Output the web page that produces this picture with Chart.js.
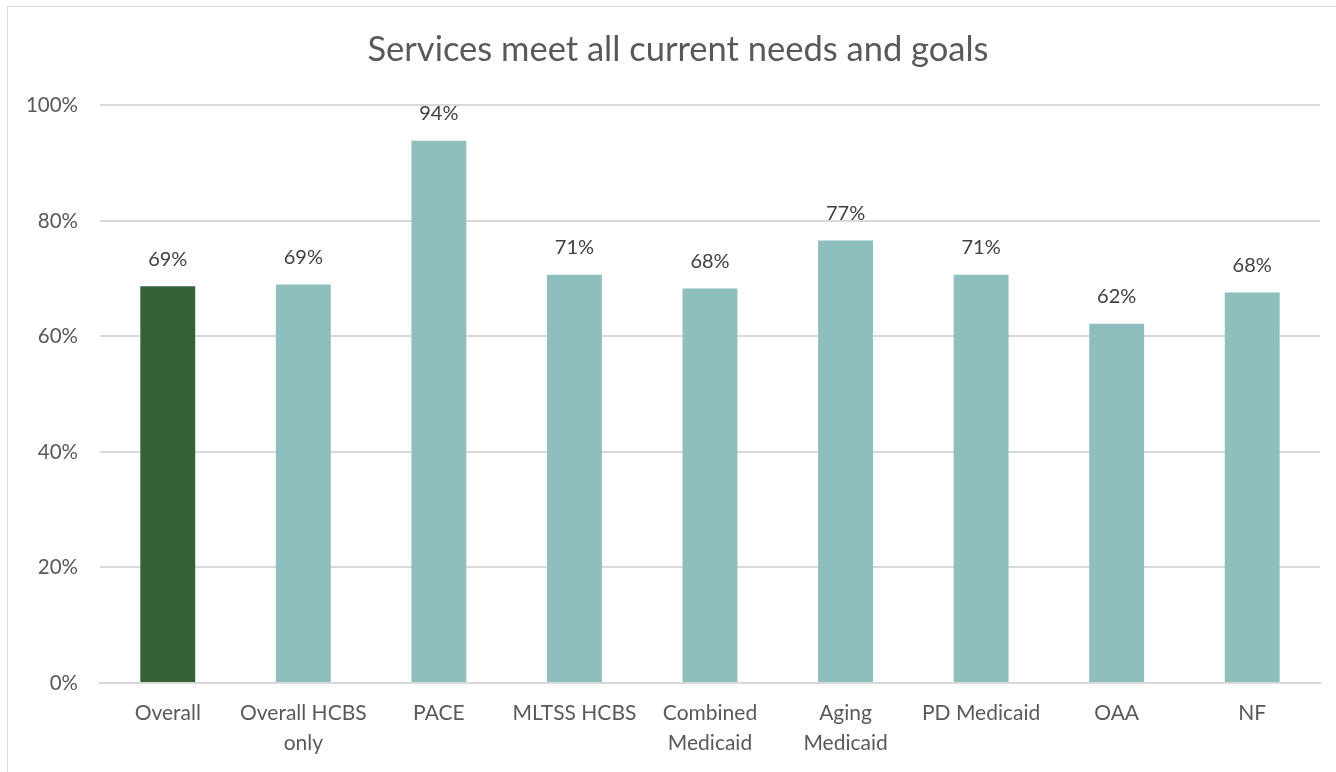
<!DOCTYPE html>
<html>
<head>
<meta charset="utf-8">
<script src="https://cdn.jsdelivr.net/npm/chart.js@4/dist/chart.umd.min.js"></script>
<style>
  html, body { margin: 0; padding: 0; background: #ffffff; overflow: hidden; }
  #frame { position: absolute; left: 7px; top: 6px; width: 1400px; height: 900px; border: 1px solid #d9d9d9; }
  #wrap { position: absolute; left: 0; top: 0; width: 1336px; height: 772px; }
</style>
</head>
<body>
<div id="frame"></div>
<div id="wrap"><canvas id="c" width="1336" height="772"></canvas></div>
<script>
const categories = ['Overall', ['Overall HCBS', 'only'], 'PACE', 'MLTSS HCBS', ['Combined', 'Medicaid'], ['Aging', 'Medicaid'], 'PD Medicaid', 'OAA', 'NF'];
const values = [68.7, 69.0, 93.9, 70.7, 68.3, 76.6, 70.7, 62.2, 67.6];
const barColors = ['#336235', '#8FBEBE', '#8FBEBE', '#8FBEBE', '#8FBEBE', '#8FBEBE', '#8FBEBE', '#8FBEBE', '#8FBEBE'];
const yTicks = [0, 20, 40, 60, 80, 100];
const titleText = 'Services meet all current needs and goals';

const FONT = 'Lato, "Open Sans", sans-serif';

const labelPlugin = {
  id: 'valueLabels',
  afterLayout(chart) {
    if (chart.titleBlock) { chart.titleBlock.left = 36; }
  },
  afterDatasetsDraw(chart) {
    const ctx = chart.ctx;
    const meta = chart.getDatasetMeta(0);
    ctx.save();
    ctx.font = '20px ' + FONT;
    ctx.fillStyle = '#404040';
    ctx.textAlign = 'center';
    ctx.textBaseline = 'middle';
    meta.data.forEach((bar, i) => {
      ctx.fillText(Math.round(values[i]) + '%', bar.x, bar.y - 27);
    });
    ctx.restore();
  }
};

new Chart(document.getElementById('c'), {
  type: 'bar',
  data: {
    labels: categories,
    datasets: [{
      data: values,
      backgroundColor: barColors,
      borderWidth: 0,
      categoryPercentage: 1,
      barPercentage: 0.405
    }]
  },
  options: {
    responsive: false,
    animation: false,
    devicePixelRatio: 1,
    layout: { padding: { left: 0, right: 16, top: 0, bottom: 0 } },
    plugins: {
      legend: { display: false },
      tooltip: { enabled: false },
      title: {
        display: true,
        text: titleText,
        color: '#595959',
        font: { family: FONT, size: 34.5, weight: 'normal', lineHeight: 1.2 },
        padding: { top: 29, bottom: 35 }
      }
    },
    scales: {
      x: {
        grid: { display: false, drawTicks: false },
        border: { display: true, color: '#d9d9d9', width: 2 },
        ticks: {
          color: '#595959',
          font: { family: FONT, size: 21, lineHeight: 1.4 },
          padding: 16,
          maxRotation: 0,
          autoSkip: false
        },
        afterFit(scale) { scale.height = 89; }
      },
      y: {
        min: 0,
        max: 100,
        afterBuildTicks(scale) { scale.ticks = yTicks.map(v => ({ value: v })); },
        grid: { color: '#d9d9d9', lineWidth: 2, drawTicks: false },
        border: { display: false },
        ticks: {
          color: '#595959',
          font: { family: FONT, size: 20.5 },
          padding: 22,
          callback: v => v + '%'
        },
        afterFit(scale) { scale.width = 100; }
      }
    }
  },
  plugins: [labelPlugin]
});
</script>
</body>
</html>
